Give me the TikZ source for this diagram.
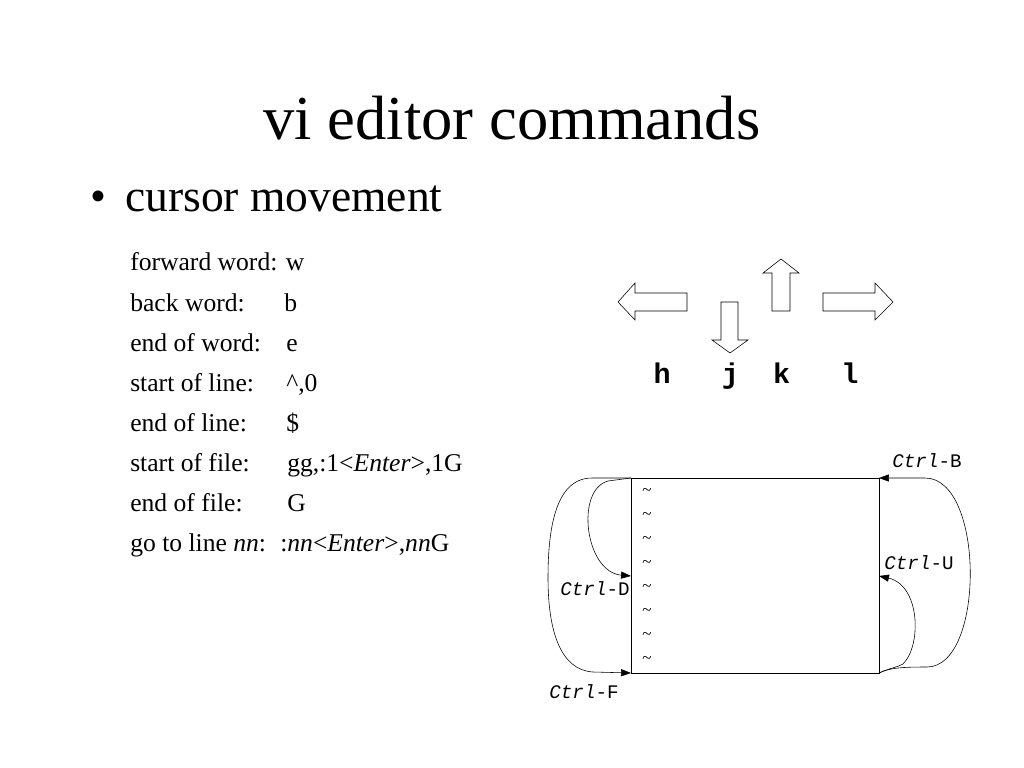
\documentclass[tikz,border=0pt]{standalone}
\usepackage{fontspec}
\setmainfont{Liberation Serif}
\setmonofont{Liberation Mono}
\usetikzlibrary{arrows.meta}
\newcommand{\ctrlkey}[1]{\texttt{\textit{Ctrl}-#1}}

\begin{document}
\begin{tikzpicture}[x=0.703125pt,y=-0.703125pt,
	item/.style={anchor=base west,inner sep=0pt,font=\fontsize{18}{20}\selectfont},
	keyarrow/.style={draw,thin,fill=white},
	jump/.style={-{Triangle[length=7pt,width=5pt]},thin},
	keylabel/.style={inner sep=0pt,font=\fontsize{13.5}{15}\selectfont},
	tilde/.style={inner sep=0pt,font=\fontsize{12}{14}\selectfont}]
	\useasboundingbox (0,0) rectangle (1024,768);
	\node (title) at (512,140) [anchor=base,inner sep=0pt,font=\fontsize{44}{50}\selectfont] {vi editor commands};
	\node (bullet) at (98,212) [anchor=base,inner sep=0pt,font=\fontsize{32}{36}\selectfont] {\textbullet};
	\node (topic) at (125,212) [anchor=base west,inner sep=0pt,font=\fontsize{32}{36}\selectfont] {cursor movement};
	% the commands
	\node (fw) at (130,271) [item] {forward word: w};
	\node (bw) at (130,311) [item] {back word:};
	\node (bwkey) at (284,311) [item] {b};
	\node (ew) at (130,351) [item] {end of word:};
	\node (ewkey) at (286,351) [item] {e};
	\node (sl) at (130,391) [item] {start of line:};
	\node (slkey) at (286,391) [item] {\textasciicircum,0};
	\node (el) at (130,431) [item] {end of line:};
	\node (elkey) at (286,431) [item] {\$};
	\node (sf) at (130,471) [item] {start of file:};
	\node (sfkey) at (287,471) [item] {gg,:1<\textit{Enter}>,1G};
	\node (ef) at (130,511) [item] {end of file:};
	\node (efkey) at (287,511) [item] {G};
	\node (gl) at (130,551) [item] {go to line \textit{nn}:};
	\node (glkey) at (280,551) [item] {:\textit{nn}<\textit{Enter}>,\textit{nn}G};
	% hjkl arrows
	\draw[keyarrow] (687,293) -- (635,293) -- (635,283) -- (618,302) -- (635,320) -- (635,311) -- (687,311) -- cycle;
	\draw[keyarrow] (721,302) -- (721,340) -- (712,340) -- (730,353) -- (748,340) -- (738,340) -- (738,302) -- cycle;
	\draw[keyarrow] (772,311) -- (772,273) -- (763,273) -- (781,259) -- (799,273) -- (790,273) -- (790,311) -- cycle;
	\draw[keyarrow] (823,293) -- (875,293) -- (875,283) -- (893,302) -- (875,320) -- (875,311) -- (823,311) -- cycle;
	\node (hjkl) at (756,383) [anchor=base,inner sep=0pt,font=\fontsize{20}{22}\ttfamily\bfseries] {h\ \ \ j\ \ k\ \ \ l};
	% the screen
	\coordinate (tl) at (631,478);
	\coordinate (tr) at (879,478);
	\coordinate (bl) at (631,673);
	\coordinate (br) at (879,673);
	\coordinate (ml) at (631,576);
	\coordinate (mr) at (879,576);
	\draw[thin] (tl) rectangle (br);
	\node (t1) at (647,492) [tilde] {\textasciitilde};
	\node (t2) at (647,516) [tilde] {\textasciitilde};
	\node (t3) at (647,540) [tilde] {\textasciitilde};
	\node (t4) at (647,564) [tilde] {\textasciitilde};
	\node (t5) at (647,588) [tilde] {\textasciitilde};
	\node (t6) at (647,612) [tilde] {\textasciitilde};
	\node (t7) at (647,636) [tilde] {\textasciitilde};
	\node (t8) at (647,660) [tilde] {\textasciitilde};
	% scrolling
	\draw[jump] (tl) -- (592,478) .. controls (555,478) and (548,530) .. (548,578) .. controls (548,630) and (560,670) .. (593,672) -- (bl);
	\draw[jump] (tl) -- (608,481) .. controls (575,490) and (585,572) .. (ml);
	\draw[jump] (br) .. controls (890,668) and (900,667) .. (927,667) .. controls (985,667) and (985,478) .. (925,478) -- (tr);
	\draw[jump] (br) .. controls (890,668) and (898,667) .. (903,664) .. controls (922,645) and (920,585) .. (mr);
	\node (cf) at (584,692) [keylabel] {\ctrlkey{F}};
	\node (cd) at (595,589) [keylabel] {\ctrlkey{D}};
	\node (cb) at (927,461) [keylabel] {\ctrlkey{B}};
	\node (cu) at (919,563) [keylabel] {\ctrlkey{U}};
\end{tikzpicture}
\end{document}
